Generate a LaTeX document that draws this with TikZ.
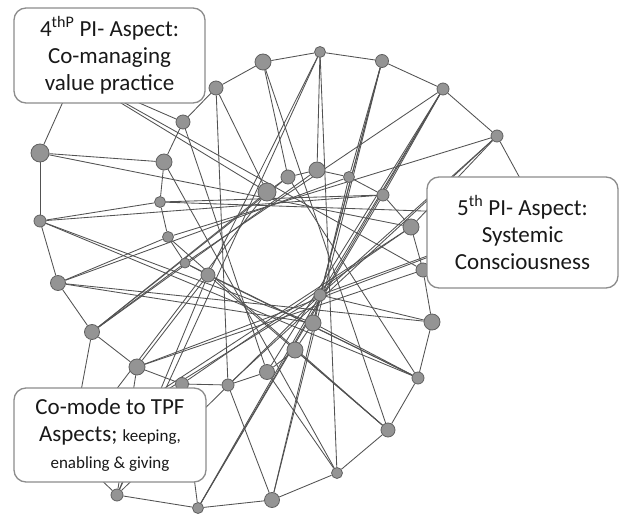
\documentclass[tikz,border=0pt]{standalone}
\usepackage{fontspec}
\setmainfont{Carlito}
\usetikzlibrary{backgrounds}
\begin{document}
\begin{tikzpicture}[x=1pt,y=-1pt,
  dot/.style={circle,draw=black!62,fill=black!42,line width=0.8pt,inner sep=0pt,minimum size=#1},
  link/.style={draw=black!68,line width=0.85pt},
  aspect/.style={draw=black!45,line width=1.3pt,rounded corners=12pt,fill=white,
    align=center,inner sep=0pt,text=black!90,font=\fontsize{23}{27}\selectfont}]
\useasboundingbox (0,0) rectangle (626,521);

% three spiral arms of dots (a, b, c), numbered n1..n40
\foreach \k/\a/\x/\y/\d in {
  1/a0/540/215/10, 2/a1/497/136/12, 3/a2/443/89/12, 4/a3/382/61/13,
  5/a4/320/52/11, 6/a5/263/62/16, 7/a6/216/88/14, 8/a7/183/122/14,
  9/a8/164/162/16, 10/a9/160/202/11, 11/a10/168/237/11, 12/a11/185/263/10,
  13/a12/208/275/14,
  14/b0/75/75/10, 15/b1/40/153/18, 16/b2/40/221/12, 17/b3/58/283/15,
  18/b4/92/332/15, 19/b5/137/367/16, 20/b6/182/384/13, 21/b7/228/385/12,
  22/b8/267/372/15, 23/b9/295/350/16, 24/b10/313/323/16, 25/b11/320/295/12,
  26/c0/70/450/10, 27/c1/117/495/12, 28/c2/198/508/11, 29/c3/272/500/15,
  30/c4/337/473/11, 31/c5/388/430/14, 32/c6/418/378/12, 33/c7/432/322/16,
  34/c8/423/270/14, 35/c9/411/227/16, 36/c10/383/195/12, 37/c11/349/177/11,
  38/c12/317/170/16, 39/c13/288/177/14, 40/c14/267/192/18}{
  \node[dot=\d pt,alias=\a] (n\k) at (\x,\y) {};
  \expandafter\xdef\csname px\k\endcsname{\x}
  \expandafter\xdef\csname py\k\endcsname{\y}
}

\begin{scope}[on background layer]
  \fill[white] (0,0) rectangle (626,521);
  % links along each arm
  \foreach \i [evaluate=\i as \j using int(\i+1)] in {1,...,12,14,15,...,24,26,27,...,39}
    \draw[link] (n\i) -- (n\j);
  % links between neighbouring arms
  \foreach \p/\q in {a0/c8,a1/c9,a2/c10,a3/c11,a4/c12,a5/c13,a6/c14,
                     b0/a7,b1/a8,b2/a9,b3/a10,b4/a11,b5/a12,
                     c0/b4,c1/b5,c2/b6,c3/b7,c4/b8,c5/b9,c6/b10,c7/b11}
    \draw[link] (\p) -- (\q);
  % long chords that pass the centre of the spiral at a distance of about 50
  \foreach \i in {1,...,39}{
    \pgfmathtruncatemacro\js{\i+1}
    \foreach \j in {\js,...,40}{
      \pgfmathsetmacro\xa{(\csname px\i\endcsname-278)/100}
      \pgfmathsetmacro\ya{(\csname py\i\endcsname-257)/100}
      \pgfmathsetmacro\xb{(\csname px\j\endcsname-278)/100}
      \pgfmathsetmacro\yb{(\csname py\j\endcsname-257)/100}
      \pgfmathsetmacro\len{veclen(\xb-\xa,\yb-\ya)}
      \pgfmathsetmacro\dd{abs(\xa*\yb-\xb*\ya)/\len}
      \pgfmathtruncatemacro\ok{and(and(\dd>0.46,\dd<0.60),\len>2.2)}
      \ifnum\ok=1 \draw[link] (n\i) -- (n\j); \fi
    }
  }
\end{scope}

% labels
\node[aspect,minimum width=191pt,minimum height=95pt] (fourth) at (109.5,55.5)
  {4\textsuperscript{thP} PI- Aspect:\\Co-managing\\value practice};
\node[aspect,minimum width=191pt,minimum height=111pt] (fifth) at (522.5,232.5)
  {5\textsuperscript{th} PI- Aspect:\\Systemic\\Consciousness};
\node[aspect,minimum width=192pt,minimum height=94pt] (comode) at (110,435)
  {Co-mode to TPF\\Aspects; {\fontsize{17}{20}\selectfont keeping,}\\
   {\fontsize{17}{20}\selectfont enabling \& giving}};
\end{tikzpicture}
\end{document}
